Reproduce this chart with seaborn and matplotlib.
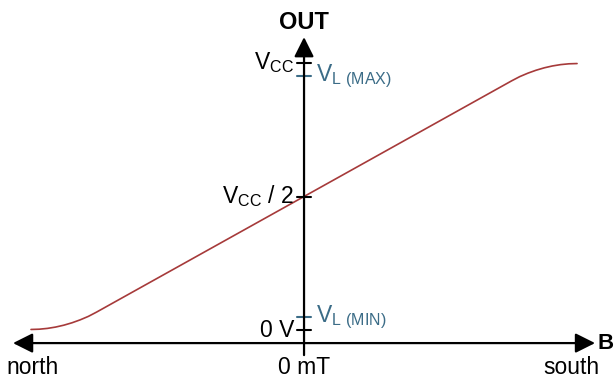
import matplotlib
matplotlib.use("Agg")
import matplotlib.pyplot as plt
import seaborn as sns

# transfer curve, field in mT (arbitrary scale) vs output as fraction of VCC
b_field = [-100, -97, -94, -91, -88, -85, -82, -79, -76, 0,
           76, 79, 82, 85, 88, 91, 94, 97, 100]
out_level = [0.002, 0.003, 0.006, 0.011, 0.018, 0.027, 0.038, 0.051, 0.067, 0.5,
             0.933, 0.949, 0.962, 0.973, 0.982, 0.989, 0.994, 0.997, 0.998]

# y-axis marks
black_ticks = [0.0, 0.5, 1.0]
black_labels = ["0 V", "V$_{CC}$ / 2", "V$_{CC}$"]
teal_ticks = [0.049, 0.951]
teal_labels = [r"V$_{L\ (MIN)}$", r"V$_{L\ (MAX)}$"]

# x-axis labels
x_label_pos = [-99.3, 0, 97.8]
x_labels = ["north", "0 mT", "south"]

RED = "#a63a3a"
TEAL = "#3b6c87"

sns.set_theme(style="white")
plt.rcParams["font.family"] = ["Liberation Sans", "DejaVu Sans"]
plt.rcParams["mathtext.fontset"] = "custom"
plt.rcParams["mathtext.rm"] = "Liberation Sans"
plt.rcParams["mathtext.default"] = "regular"
plt.rcParams["text.color"] = "black"

fig = plt.figure(figsize=(6.15, 3.81), dpi=100)
ax = fig.add_axes([0, 0, 1, 1])
ax.set_xlim(-111.36, 113.9)
ax.set_ylim(-0.191, 1.236)
ax.axis("off")

sns.lineplot(x=b_field, y=out_level, sort=False, estimator=None,
             color=RED, linewidth=1.2, ax=ax)

# axes with arrow heads
ax.annotate("", xy=(106.6, -0.049), xytext=(-106.6, -0.049),
            arrowprops=dict(arrowstyle="<|-|>,head_length=0.6,head_width=0.3",
                            mutation_scale=20, lw=1.6, color="black",
                            shrinkA=0, shrinkB=0))
ax.annotate("", xy=(0, 1.097), xytext=(0, -0.094),
            arrowprops=dict(arrowstyle="-|>,head_length=0.6,head_width=0.3",
                            mutation_scale=20, lw=1.6, color="black",
                            shrinkA=0, shrinkB=0))

half = 2.6
for y, lab in zip(black_ticks, black_labels):
    ax.plot([-half, half], [y, y], color="black", lw=1.5)
    ax.text(-3.7, y, lab, ha="right", va="center", fontsize=16.5, color="black")
for y, lab in zip(teal_ticks, teal_labels):
    ax.plot([-half, half], [y, y], color=TEAL, lw=1.5)
    ax.text(4.4, y, lab, ha="left", va="center", fontsize=16.5, color=TEAL)

for x, lab in zip(x_label_pos, x_labels):
    ax.text(x, -0.165, lab, ha="center", va="baseline", fontsize=16.5, color="black")

ax.text(0, 1.150, "OUT", ha="center", va="center", fontsize=17,
        fontweight="bold", color="black")
ax.text(107.5, -0.049, "B", ha="left", va="center", fontsize=16,
        fontweight="bold", color="black")

fig.savefig("out.png", dpi=100)
